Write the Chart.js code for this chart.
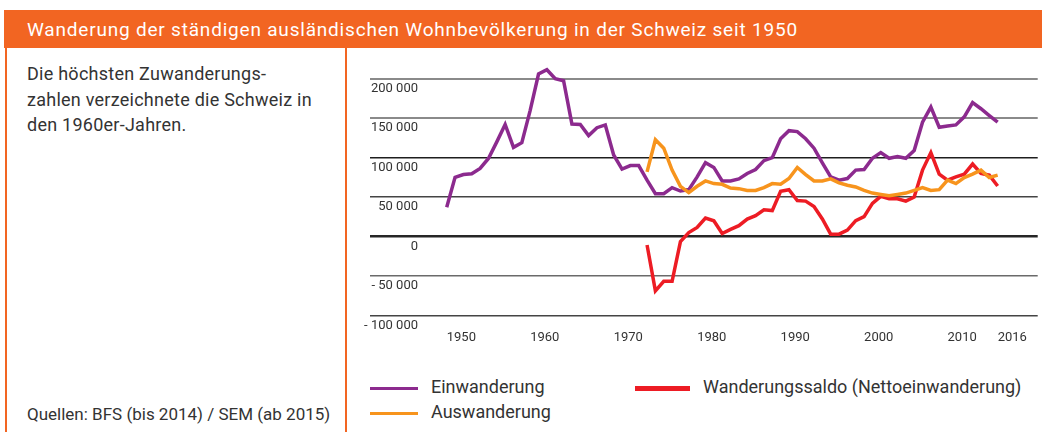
<!DOCTYPE html>
<html lang="de">
<head>
<meta charset="utf-8">
<title>Wanderung der ständigen ausländischen Wohnbevölkerung</title>
<script src="https://cdn.jsdelivr.net/npm/chart.js@4/dist/chart.umd.min.js"></script>
<style>
  html, body { margin: 0; padding: 0; background: #fff; }
  body { width: 1042px; height: 432px; position: relative; overflow: hidden; font-family: Roboto, "DejaVu Sans", sans-serif; color: #333; }
  #header { position: absolute; left: 4px; top: 10px; width: 1038px; height: 38px; background: #f26522; }
  #header h1 { margin: 0; position: absolute; left: 23px; top: 8px; font-size: 19px; font-weight: 400; color: #fff; letter-spacing: 0.8px; white-space: nowrap; }
  .vline { position: absolute; top: 48px; bottom: 0; width: 2px; background: #f26522; }
  #note { position: absolute; left: 27px; top: 61px; width: 318px; font-size: 18px; line-height: 25.5px; letter-spacing: 0.25px; }
  #source { position: absolute; left: 27px; top: 404px; font-size: 17px; white-space: nowrap; }
  #chartBox { position: absolute; left: 350px; top: 50px; width: 692px; height: 316px; }
  .legend-item { position: absolute; font-size: 18px; white-space: nowrap; line-height: 22px; }
  .legend-item span { display: inline-block; vertical-align: middle; margin-right: 13px; }
</style>
</head>
<body>
<div id="header"><h1>Wanderung der ständigen ausländischen Wohnbevölkerung in der Schweiz seit 1950</h1></div>
<div class="vline" style="left:5px"></div>
<div class="vline" style="left:345px"></div>
<div id="note">Die höchsten Zuwanderungs-<br>zahlen verzeichnete die Schweiz in<br>den 1960er-Jahren.</div>
<div id="source">Quellen: BFS (bis 2014) / SEM (ab 2015)</div>
<div id="chartBox"><canvas id="migrationChart"></canvas></div>
<div id="legend"></div>

<script>
// Jahre 1950-2016
var years = [1950, 1951, 1952, 1953, 1954, 1955, 1956, 1957, 1958, 1959,
             1960, 1961, 1962, 1963, 1964, 1965, 1966, 1967, 1968, 1969,
             1970, 1971, 1972, 1973, 1974, 1975, 1976, 1977, 1978, 1979,
             1980, 1981, 1982, 1983, 1984, 1985, 1986, 1987, 1988, 1989,
             1990, 1991, 1992, 1993, 1994, 1995, 1996, 1997, 1998, 1999,
             2000, 2001, 2002, 2003, 2004, 2005, 2006, 2007, 2008, 2009,
             2010, 2011, 2012, 2013, 2014, 2015, 2016];

var einwanderung = [37000, 75000, 78600, 79500, 86300, 99000, 120000, 142000, 113000, 119000,
                    160000, 206000, 211500, 200000, 197500, 142700, 142000, 128000, 138000, 141500,
                    103400, 85500, 90000, 90000, 71400, 54300, 54300, 62000, 57700, 59500,
                    75600, 93600, 87600, 70500, 70500, 73100, 79900, 85000, 96200, 100000,
                    124000, 134200, 133000, 124000, 112000, 93500, 75600, 71400, 73500, 84200,
                    85000, 99200, 106400, 99200, 101300, 99200, 109000, 144900, 164100, 138500,
                    140200, 141500, 151700, 169700, 162000, 153400, 144900];

// Auswanderung und Saldo erst ab 1974
var years1974 = [1974, 1975, 1976, 1977, 1978, 1979,
                 1980, 1981, 1982, 1983, 1984, 1985, 1986, 1987, 1988, 1989,
                 1990, 1991, 1992, 1993, 1994, 1995, 1996, 1997, 1998, 1999,
                 2000, 2001, 2002, 2003, 2004, 2005, 2006, 2007, 2008, 2009,
                 2010, 2011, 2012, 2013, 2014, 2015, 2016];

var auswanderung = [82000, 122700, 112000, 84200, 63700, 55600,
                    63700, 70500, 67100, 66200, 61500, 60700, 58500, 58500, 62000, 67100,
                    66200, 73500, 87600, 78600, 70500, 70500, 73100, 68000, 65000, 62800,
                    58500, 55100, 53400, 51700, 53400, 55100, 58500, 62000, 58500, 59400,
                    71400, 67100, 74800, 79100, 84200, 74800, 77800];

var saldo = [-10700, -68800, -56800, -56800, -6400, 5100,
             11500, 23500, 20000, 3800, 9000, 13700, 22200, 26500, 33800, 32900,
             57300, 59400, 45700, 44900, 38000, 22200, 3000, 3000, 8100, 20100,
             25200, 42000, 51000, 47900, 47900, 44900, 50000, 84200, 106400, 79100,
             71400, 75600, 79100, 91900, 79900, 77800, 64000];

var xTicks = [1950, 1960, 1970, 1980, 1990, 2000, 2010, 2016];
var yTicks = [-100000, -50000, 0, 50000, 100000, 150000, 200000];

var purple = '#8c2a8e';
var orange = '#f7941d';
var red = '#ed1c24';

function points(xs, ys) {
    return xs.map(function(x, i) { return { x: x, y: ys[i] }; });
}

function formatNumber(v) {
    var s = String(Math.abs(v)).replace(/\B(?=(\d{3})+(?!\d))/g, ' ');
    return v < 0 ? '- ' + s : s;
}

function gridStyle(value) {
    if (value === 0) return { color: '#262626', width: 2.5 };
    if (value === 100000) return { color: '#1e1e1e', width: 1.5 };
    if (value === 200000 || value === 150000) return { color: '#8a8a8a', width: 2 };
    if (value === 50000 || value === -100000) return { color: '#444', width: 1.5 };
    return { color: '#6a6a6a', width: 1.5 };
}

var datasets = [
    { label: 'Einwanderung', data: points(years, einwanderung), borderColor: purple, order: 3 },
    { label: 'Wanderungssaldo (Nettoeinwanderung)', data: points(years1974, saldo), borderColor: red, order: 2 },
    { label: 'Auswanderung', data: points(years1974, auswanderung), borderColor: orange, order: 1 }
];

datasets.forEach(function(ds) {
    ds.borderWidth = 3.5;
    ds.pointRadius = 0;
    ds.fill = false;
    ds.tension = 0;
});

new Chart(document.getElementById('migrationChart').getContext('2d'), {
    type: 'line',
    data: { datasets: datasets },
    options: {
        responsive: true,
        maintainAspectRatio: false,
        animation: false,
        layout: { padding: { left: 13, right: 2, top: 13, bottom: 5 } },
        plugins: {
            legend: { display: false },
            tooltip: { enabled: false }
        },
        scales: {
            x: {
                type: 'linear',
                min: 1946.8,
                max: 2020.8,
                afterBuildTicks: function(scale) {
                    scale.ticks = xTicks.map(function(v) { return { value: v }; });
                },
                grid: { display: false, drawTicks: false },
                border: { display: false },
                ticks: {
                    autoSkip: false,
                    maxRotation: 0,
                    align: 'start',
                    padding: 15,
                    color: '#333',
                    font: { family: 'Roboto', size: 13 },
                    callback: function(v) { return String(v); }
                }
            },
            y: {
                min: -100000,
                max: 220000,
                afterBuildTicks: function(scale) {
                    scale.ticks = yTicks.map(function(v) { return { value: v }; });
                },
                afterFit: function(scale) { scale.width = 57; },
                border: { display: false },
                grid: {
                    drawTicks: true,
                    tickLength: 50,
                    color: function(ctx) { return gridStyle(ctx.tick.value).color; },
                    lineWidth: function(ctx) { return gridStyle(ctx.tick.value).width; }
                },
                ticks: {
                    padding: -48,
                    labelOffset: 10,
                    color: '#333',
                    font: { family: 'Roboto', size: 13 },
                    callback: function(v) { return formatNumber(v); }
                }
            }
        }
    }
});

// Legende
var legendPos = {
    'Einwanderung': { left: 370, top: 376, w: 48, h: 3 },
    'Auswanderung': { left: 370, top: 401, w: 48, h: 3 },
    'Wanderungssaldo (Nettoeinwanderung)': { left: 635, top: 376, w: 55, h: 5 }
};
var legend = document.getElementById('legend');
datasets.forEach(function(ds) {
    var p = legendPos[ds.label];
    var item = document.createElement('div');
    item.className = 'legend-item';
    item.style.left = p.left + 'px';
    item.style.top = p.top + 'px';
    var swatch = document.createElement('span');
    swatch.style.width = p.w + 'px';
    swatch.style.height = p.h + 'px';
    swatch.style.background = ds.borderColor;
    item.appendChild(swatch);
    item.appendChild(document.createTextNode(ds.label));
    legend.appendChild(item);
});
</script>
</body>
</html>
